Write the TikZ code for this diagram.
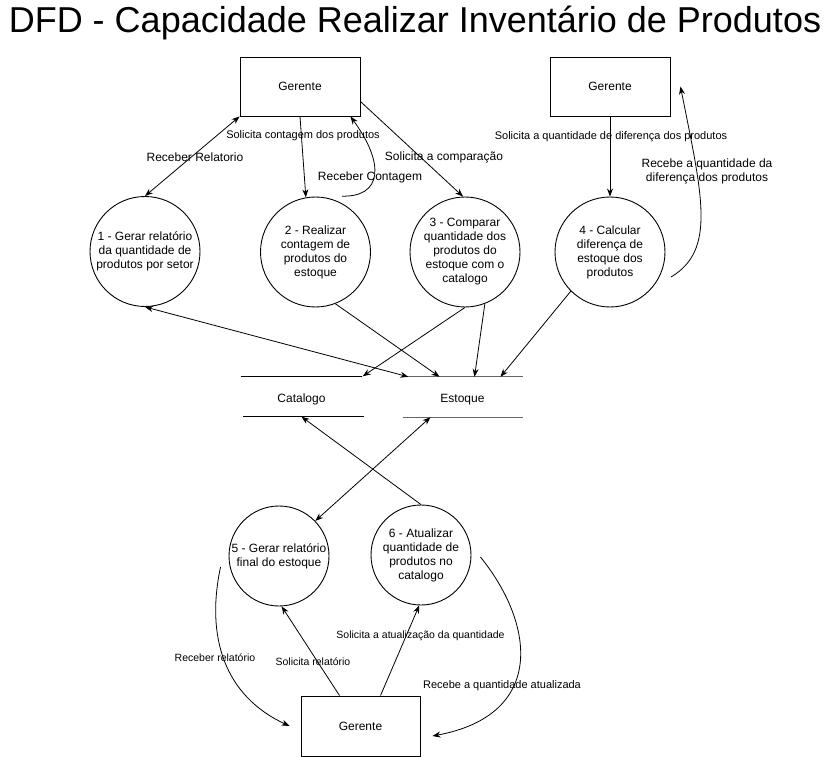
\documentclass[tikz,border=0pt]{standalone}
\usepackage{fontspec}
\setmainfont{Liberation Sans}
\usetikzlibrary{arrows.meta,calc}
\begin{document}
\begin{tikzpicture}[x=1pt,y=-1pt,
  every node/.style={font=\fontsize{12}{14}\selectfont, inner sep=0pt},
  proc/.style={circle, draw, line width=0.9pt, minimum size=110pt, align=center},
  procsmall/.style={proc, minimum size=100pt},
  ent/.style={draw, line width=0.9pt, minimum width=120pt, minimum height=59pt},
  store/.style={minimum width=120pt, minimum height=40pt, text height=11pt, text depth=0pt},
  storeline/.style={line width=1.1pt, draw=#1},
  flow/.style={line width=0.8pt, -{Stealth[length=8pt,width=6pt]}},
  flowtwo/.style={line width=0.8pt, {Stealth[length=8pt,width=6pt]}-{Stealth[length=8pt,width=6pt]}},
  lbl/.style={font=\fontsize{12}{14}\selectfont, align=center},
  lbls/.style={font=\fontsize{11}{13}\selectfont},
  lblb/.style={font=\fontsize{10.5}{12}\selectfont},
]
\useasboundingbox (0,0) rectangle (831,757);
\fill[white] (0,0) rectangle (831,757);

\node (title) at (415,23) {\fontsize{36}{40}\selectfont DFD - Capacidade Realizar Inventário de Produtos};

% entities
\node[ent] (g1) at (300,86.5) {Gerente};
\node[ent] (g2) at (610,86.5) {Gerente};
\node[ent, minimum width=119pt, minimum height=60pt] (g3) at (360.5,726) {Gerente};

% processes
\node[proc] (c1) at (145,251.5) {1 - Gerar relatório\\da quantidade de\\produtos por setor};
\node[proc] (c2) at (315.5,252) {2 - Realizar\\contagem de\\produtos do\\estoque};
\node[proc] (c3) at (465,252) {3 - Comparar\\quantidade dos\\produtos do\\estoque com o\\catalogo};
\node[proc] (c4) at (610,252) {4 - Calcular\\diferença de\\estoque dos\\produtos};
\node[procsmall] (c5) at (279,556) {5 - Gerar relatório\\final do estoque};
\node[procsmall] (c6) at (421,555) {6 - Atualizar\\quantidade de\\produtos no\\catalogo};

% data stores
\node[store] (cat) at (301.5,396.5) {Catalogo};
\node[store] (est) at (462.5,397) {Estoque};
\draw[storeline=black] (cat.north west) -- (cat.north east);
\draw[storeline=black] ([xshift=2pt]cat.south west) -- ([xshift=2pt]cat.south east);
\draw[storeline={black!60}] (est.north west) -- (est.north east);
\draw[storeline={black!60}] ([xshift=1pt]est.south west) -- (est.south east);

% top flows
\draw[flowtwo] (g1.south west) -- (c1.north);
\draw[flow] (g1.south) -- (c2.100);
\draw[flow] ([xshift=2pt,yshift=6pt]c2.64) .. controls +(40,1) and +(35,48) .. ([xshift=-10pt]g1.south east);
\draw[flow] ([yshift=-15pt]g1.east) -- (c3.92);
\draw[flow] (g2.south) -- (c4.north);
\draw[flow] ([xshift=9pt,yshift=-6pt]c4.-20) .. controls +(45,-27) and +(22,110) .. ([xshift=10pt]g2.east);

% flows to stores
\draw[flowtwo] (c1.south) -- ([xshift=6pt]est.north west);
\draw[flow] (c2.-69) -- ([xshift=-23pt]est.north);
\draw[flow] (c3.south) -- ([xshift=1pt]cat.north east);
\draw[flow] (c3.-69) -- ([xshift=12pt]est.north);
\draw[flow] (c4.225) -- ([xshift=38pt]est.north);

% flows from stores to bottom processes
\draw[flow] (c6.north) -- (cat.south);
\draw[flowtwo] ([xshift=-32pt]est.south) -- (c5.44);

% bottom flows
\draw[flow] ([xshift=-8pt,yshift=-11pt]c5.west) .. controls +(-15,70) and +(-65,-30) .. ([xshift=-11pt]g3.west);
\draw[flow] ([xshift=-21pt]g3.north) -- (c5.-87);
\draw[flow] ([xshift=20pt]g3.north) -- (c6.-92);
\draw[flow] ([xshift=9pt,yshift=-2pt]c6.east) .. controls +(55,68) and +(113,-21) .. ([xshift=12pt,yshift=-10pt]g3.east);

% labels
\node[lbl] (l1) at (195,157) {Receber Relatorio};
\node[lbls] (l2) at (303,136) {Solicita contagem dos produtos};
\node[lbl] (l3) at (370,177) {Receber Contagem};
\node[lbl] (l4) at (444,157) {Solicita a comparação};
\node[lbls] (l5) at (611,137) {Solicita a quantidade de diferença dos produtos};
\node[lbl] (l6) at (707,171.5) {Recebe a quantidade da\\diferença dos produtos};
\node[lblb] (l7) at (215,658) {Receber relatório};
\node[lblb] (l8) at (313,662) {Solicita relatório};
\node[lblb] (l9) at (420.5,636) {Solicita a atualização da quantidade};
\node[lbls] (l10) at (502,686) {Recebe a quantidade atualizada};
\end{tikzpicture}
\end{document}
